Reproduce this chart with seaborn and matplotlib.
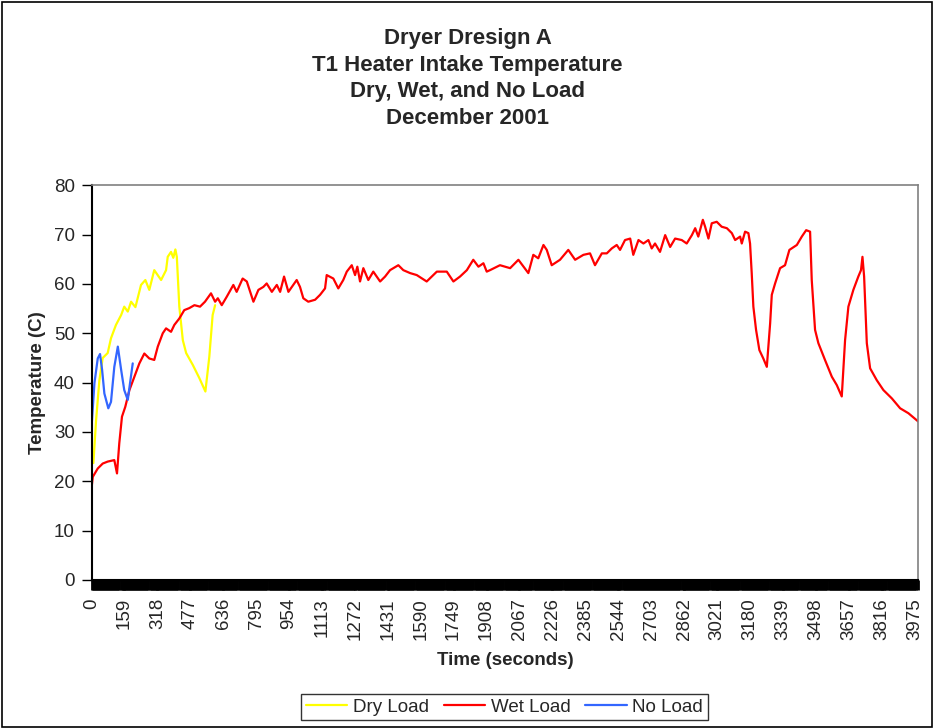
import pandas as pd
import seaborn as sns
import matplotlib.pyplot as plt
from matplotlib.ticker import MultipleLocator
from matplotlib.patches import Rectangle

sns.set_style("white")
plt.rcParams["font.family"] = ["Liberation Sans", "DejaVu Sans"]

# readings: time (s) and temperature (C)
dry_t = [0, 9, 22, 38, 54, 78, 94, 118, 143, 158, 175, 191, 212, 239, 260, 279,
         303, 336, 360, 368, 384, 395, 405, 412, 424, 441, 457, 489, 521, 550,
         569, 585, 597]
dry_temp = [25.3, 23.7, 32.4, 40.5, 45.0, 46.0, 49.0, 51.7, 53.7, 55.4, 54.4,
            56.4, 55.3, 59.8, 60.8, 58.8, 62.8, 60.8, 62.8, 65.5, 66.5, 65.3,
            67.0, 65.5, 55.4, 48.6, 46.0, 43.6, 40.9, 38.2, 45.3, 53.7, 55.7]

wet_t = [0, 6, 30, 54, 78, 110, 123, 134, 147, 163, 183, 207, 231, 255, 279,
         303, 320, 344, 360, 384, 400, 424, 448, 472, 497, 524, 548, 577, 597,
         610, 629, 653, 685, 701, 730, 750, 782, 806, 830, 846, 871, 895, 911,
         930, 951, 991, 1007, 1023, 1047, 1080, 1104, 1128, 1136, 1168, 1192,
         1216, 1233, 1257, 1273, 1284, 1297, 1313, 1337, 1361, 1394, 1418, 1442,
         1482, 1506, 1539, 1571, 1619, 1668, 1716, 1748, 1780, 1813, 1844, 1869,
         1893, 1909, 1925, 1973, 2022, 2062, 2110, 2134, 2158, 2183, 2199, 2223,
         2263, 2303, 2336, 2376, 2408, 2432, 2465, 2489, 2513, 2537, 2553, 2577,
         2602, 2617, 2642, 2666, 2690, 2706, 2722, 2746, 2771, 2795, 2819, 2851,
         2875, 2900, 2916, 2931, 2953, 2964, 2980, 2996, 3020, 3044, 3069, 3093,
         3109, 3133, 3141, 3157, 3173, 3181, 3189, 3197, 3210, 3226, 3245, 3262,
         3278, 3286, 3302, 3326, 3350, 3371, 3407, 3431, 3452, 3471, 3479, 3495,
         3511, 3543, 3576, 3600, 3624, 3640, 3656, 3680, 3704, 3717, 3724, 3732,
         3745, 3761, 3793, 3825, 3866, 3906, 3946, 3994]
wet_temp = [18.6, 20.9, 22.6, 23.6, 24.0, 24.3, 21.6, 27.7, 33.1, 35.1, 38.5,
            41.2, 43.9, 45.9, 44.9, 44.6, 47.3, 50.0, 51.0, 50.3, 51.7, 53.0,
            54.7, 55.1, 55.7, 55.4, 56.4, 58.1, 56.4, 57.1, 55.7, 57.4, 59.8,
            58.4, 61.1, 60.5, 56.4, 58.8, 59.4, 60.1, 58.4, 59.8, 58.4, 61.5,
            58.4, 60.8, 59.4, 57.1, 56.4, 56.8, 57.8, 59.1, 61.8, 61.1, 59.1,
            60.8, 62.5, 63.8, 61.8, 63.5, 60.5, 63.2, 60.8, 62.5, 60.5, 61.5,
            62.8, 63.8, 62.8, 62.2, 61.8, 60.5, 62.5, 62.5, 60.5, 61.5, 62.8,
            64.9, 63.5, 64.2, 62.5, 62.8, 63.8, 63.2, 64.9, 62.2, 65.9, 65.2,
            67.9, 66.9, 63.8, 64.9, 66.9, 64.9, 65.9, 66.2, 63.8, 66.2, 66.2,
            67.2, 67.9, 66.9, 68.9, 69.2, 65.9, 68.9, 68.2, 68.9, 67.2, 68.2,
            66.5, 69.9, 67.5, 69.2, 68.9, 68.2, 69.9, 71.3, 69.6, 73.0, 71.6,
            69.2, 72.3, 72.6, 71.6, 71.3, 70.3, 68.9, 69.6, 68.2, 70.6, 70.3,
            68.2, 62.2, 55.4, 50.7, 46.6, 44.9, 43.2, 52.0, 57.8, 60.1, 63.2,
            63.8, 66.9, 67.9, 69.6, 70.9, 70.6, 60.8, 50.7, 48.0, 44.6, 41.2,
            39.5, 37.2, 48.6, 55.4, 58.8, 61.5, 62.8, 65.5, 61.5, 48.0, 42.9,
            40.5, 38.5, 36.8, 34.8, 33.8, 32.1]

no_t = [0, 14, 30, 41, 51, 62, 81, 94, 110, 127, 143, 158, 175, 186, 199]
no_temp = [31.0, 39.9, 44.9, 45.8, 42.6, 37.8, 34.8, 36.1, 43.2, 47.3, 42.6,
           38.5, 36.5, 39.9, 43.9]

series = ["Dry Load", "Wet Load", "No Load"]
colors = {"Dry Load": "#FFFF00", "Wet Load": "#FF0000", "No Load": "#3366FF"}

frames = []
for name, t, v in zip(series, [dry_t, wet_t, no_t], [dry_temp, wet_temp, no_temp]):
    frames.append(pd.DataFrame({"time": t, "temp": v, "series": name}))
df = pd.concat(frames, ignore_index=True)

fig = plt.figure(figsize=(9.35, 7.28), dpi=100)
ax = fig.add_axes([0.0979, 0.2033, 0.8843, 0.5422])

sns.lineplot(data=df, x="time", y="temp", hue="series", hue_order=series,
             palette=colors, estimator=None, sort=False, linewidth=1.6, ax=ax)

ax.set_xlim(0, 3994)
ax.set_ylim(0, 80)
ax.yaxis.set_major_locator(MultipleLocator(10))
ax.xaxis.set_major_locator(MultipleLocator(159))
ax.xaxis.set_minor_locator(MultipleLocator(5))
ax.tick_params(axis="y", direction="out", length=7, width=1, color="black",
               labelsize=13.5, pad=5, left=True)
ax.tick_params(axis="x", which="major", direction="out", length=7, width=2,
               color="black", labelsize=13.5, pad=6, labelrotation=90, bottom=True)
ax.tick_params(axis="x", which="minor", direction="out", length=7, width=2,
               color="black", bottom=True)
for lab in ax.get_xticklabels():
    lab.set_va("top")

for side in ["top", "right"]:
    ax.spines[side].set_color("#808080")
    ax.spines[side].set_linewidth(1.2)
for side in ["left", "bottom"]:
    ax.spines[side].set_color("black")
    ax.spines[side].set_linewidth(1.5)

ax.set_ylabel("Temperature (C)", fontsize=13.5, fontweight="bold", labelpad=6)
ax.set_xlabel("Time (seconds)", fontsize=13.5, fontweight="bold")
ax.xaxis.set_label_coords(0.5, -0.182)
ax.xaxis.label.set_va("top")

fig.text(0.5, 0.8922, "Dryer Dresign A\nT1 Heater Intake Temperature\nDry, Wet, and No Load\nDecember 2001",
         ha="center", va="center", fontsize=16, fontweight="bold", linespacing=1.35)

handles, labels = ax.get_legend_handles_labels()
ax.get_legend().remove()
leg = fig.legend(handles, labels, loc="center", bbox_to_anchor=(0.5396, 0.0288),
                 ncol=3, frameon=True, fancybox=False, edgecolor="black",
                 fontsize=13.5, handlelength=2.2, handletextpad=0.3,
                 columnspacing=0.8, borderpad=0.25)
leg.get_frame().set_linewidth(1)

fig.patches.append(Rectangle((0.002, 0.002), 0.995, 0.995, transform=fig.transFigure,
                             fill=False, edgecolor="black", linewidth=1.2))

fig.savefig("out.png", dpi=100)
